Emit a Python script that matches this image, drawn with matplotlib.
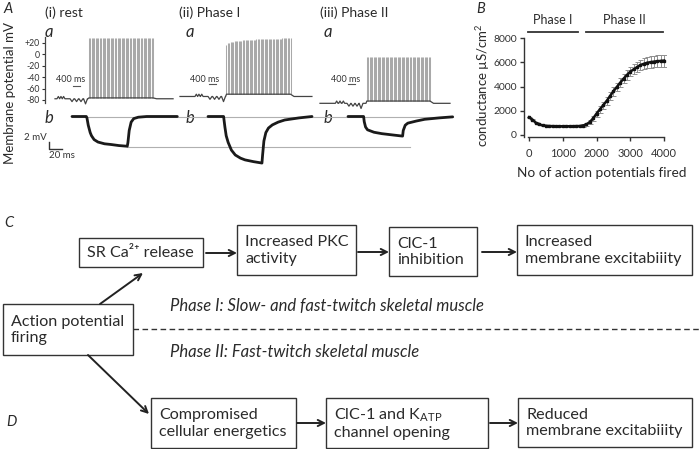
import numpy as np
import matplotlib
matplotlib.use('Agg')
import matplotlib.pyplot as plt
from matplotlib.patches import Rectangle

plt.rcParams['font.family'] = ['Lato', 'DejaVu Sans']
plt.rcParams['mathtext.fontset'] = 'custom'
plt.rcParams['mathtext.rm'] = 'Lato'
plt.rcParams['mathtext.it'] = 'Lato:italic'
plt.rcParams['mathtext.bf'] = 'Lato:bold'

# ---------------- Panel A data ----------------
a_titles = ['(i) rest', '(ii) Phase I', '(iii) Phase II']
a_baseline_mV = [-78, -74, -86]
a_train_base_mV = [-76.5, -70, -82]
a_up_pulse_s = [[0.19, 0.34, 0.49], [0.93, 1.08, 1.24], [0.95, 1.14, 1.33]]
a_down_pulse_s = [[0.97, 1.23, 1.48, 1.74], [1.71, 1.97, 2.22, 2.48], [1.65, 1.88, 2.11, 2.34]]
a_train_on_s = [1.88, 2.60, 2.62]
a_train_off_s = [5.59, 6.30, 6.27]
a_end_s = [6.73, 7.52, 7.41]
a_n_spikes = [48, 48, 48]
a_peak_i = 29
a_peaks_ii = [17, 19.5, 20.5, 21.2, 21.8, 22.3, 22.7, 23.0, 23.3, 23.6,
              23.9, 24.1, 24.3, 24.5, 24.7, 24.9, 25.1, 25.3, 25.4, 25.6,
              25.7, 25.9, 26.0, 26.1, 26.3, 26.4, 26.5, 26.6, 26.7, 26.8,
              26.9, 27.0, 27.1, 27.2, 27.3, 27.4, 27.4, 27.5, 27.6, 27.6,
              27.7, 27.8, 27.8, 27.9, 27.9, 28.0, 28.0, 28.0]
a_peak_iii = -4
a_yticks = [20, 0, -20, -40, -60, -80]
a_yticklabels = ['+20', '0', '-20', '-40', '-60', '-80']

# b traces: (time ms, deflection mV)
b_t_i = [0, 22, 23, 25, 28, 30, 34, 40, 50, 60, 72, 85, 86, 88, 91, 95, 102, 115, 162]
b_v_i = [0, 0, -0.4, -2.5, -4.6, -5.5, -6.6, -7.3, -7.8, -8.0, -8.3, -8.5, -7.5, -4.0, -1.6, -0.6, -0.2, 0, 0]
b_t_ii = [0, 24, 26, 28, 31, 36, 42, 50, 57, 70, 83, 84, 86, 89, 93, 99, 108, 118, 140, 160]
b_v_ii = [0, 0, -3, -5.5, -7.4, -9.6, -11, -11.9, -12.4, -12.9, -13.3, -11, -7, -4.6, -3.3, -2.4, -1.6, -1.0, -0.4, 0]
b_t_iii = [0, 24, 25, 27, 30, 40, 52, 70, 84, 85, 88, 92, 105, 118, 140, 161]
b_v_iii = [0, 0, -1.5, -3.0, -3.8, -4.5, -4.9, -5.3, -5.6, -4.0, -2.5, -1.9, -1.3, -0.8, -0.4, -0.1]
b_traces = [(b_t_i, b_v_i), (b_t_ii, b_v_ii), (b_t_iii, b_v_iii)]

# ---------------- Panel B data ----------------
ap_count = [0, 100, 200, 300, 400, 500, 600, 700, 800, 900, 1000, 1100, 1200, 1300,
            1400, 1500, 1600, 1700, 1800, 1900, 2000, 2100, 2200, 2300, 2400, 2500,
            2600, 2700, 2800, 2900, 3000, 3100, 3200, 3300, 3400, 3500, 3600, 3700,
            3800, 3900, 4000]
conductance = [1450, 1250, 1000, 850, 780, 740, 720, 710, 700, 700, 700, 700, 700, 700,
               710, 720, 760, 850, 1050, 1350, 1750, 2100, 2450, 2800, 3200, 3600,
               3950, 4300, 4650, 4950, 5230, 5420, 5600, 5780, 5880, 5970, 6020, 6060,
               6100, 6120, 6150]
cond_sem = [60, 50, 50, 50, 50, 50, 50, 50, 50, 50, 50, 50, 50, 50,
            60, 70, 90, 110, 150, 200, 250, 280, 300, 320, 340, 350,
            360, 380, 390, 400, 400, 420, 430, 440, 450, 460, 470, 480,
            490, 500, 500]
b_xticks = [0, 1000, 2000, 3000, 4000]
b_yticks = [0, 2000, 4000, 6000, 8000]
phase_labels = ['Phase I', 'Phase II']
phase_ranges = [(-30, 1450), (1690, 3970)]

# ---------------- Flowchart text ----------------
box_texts = ['SR Ca²⁺ release', 'Increased PKC\nactivity', 'ClC-1\ninhibition',
             'Increased\nmembrane excitabiiity', 'Action potential\nfiring',
             'Compromised\ncellular energetics', 'ClC-1 and K$_{\\mathrm{ATP}}$\nchannel opening',
             'Reduced\nmembrane excitabiiity']
phase_texts = ['Phase I: Slow- and fast-twitch skeletal muscle',
               'Phase II: Fast-twitch skeletal muscle']

# ================= layout =================
W, H = 700, 449
fig = plt.figure(figsize=(7.0, 4.49), dpi=100)
fig.patch.set_facecolor('white')

def px_axes(x0, y0, x1, y1, **kw):
    return fig.add_axes([x0 / W, 1 - y1 / H, (x1 - x0) / W, (y1 - y0) / H], **kw)

ink = '#2a2a2a'

# overlay axes in pixel coordinates
ov = px_axes(0, 0, W, H)
ov.set_xlim(0, W)
ov.set_ylim(H, 0)
ov.axis('off')
ov.patch.set_alpha(0)

# ---------- Panel A: a traces ----------
S_PER_PX = 0.057
MV_PER_PX = 1 / 0.57
a_start_px = [55, 180, 320]
zero_px = 54.3
ax_a = px_axes(45.3, 30, 465, 112)
ax_a.set_xlim(-9.7 * S_PER_PX, (465 - 55) * S_PER_PX)
ax_a.set_ylim((zero_px - 112) * MV_PER_PX, (zero_px - 30) * MV_PER_PX)
ax_a.patch.set_alpha(0)
for s in ['top', 'right', 'bottom']:
    ax_a.spines[s].set_visible(False)
ax_a.spines['left'].set_bounds(-86, 31)
ax_a.spines['left'].set_color('#444')
ax_a.spines['left'].set_linewidth(0.9)
ax_a.set_xticks([])
ax_a.set_yticks(a_yticks)
ax_a.set_yticklabels(a_yticklabels)
ax_a.tick_params(axis='y', length=2.5, width=0.8, pad=1.5, labelsize=6.3, colors='#333')

a_peaks = [np.full(a_n_spikes[0], a_peak_i), np.array(a_peaks_ii), np.full(a_n_spikes[2], a_peak_iii)]
for k in range(3):
    off = (a_start_px[k] - 55) * S_PER_PX
    base = a_baseline_mV[k]
    tb = a_train_base_mV[k]
    ts, vs = [0.0], [base]
    for c in a_up_pulse_s[k]:
        ts += [c - 0.075, c, c + 0.075]
        vs += [base, base + 4, base]
    for j, c in enumerate(a_down_pulse_s[k]):
        ts += [c - 0.11, c, c + 0.11]
        vs += [base, base - 5 - (4 if j == len(a_down_pulse_s[k]) - 1 else 0), base]
    on, offt, end = a_train_on_s[k], a_train_off_s[k], a_end_s[k]
    peaks = a_peaks[k]
    st = np.linspace(on + 0.05, offt, len(peaks))
    ax_a.vlines(st + off, tb, peaks, color='#a9a9a9', lw=0.75)
    ts += [on, on + 0.05, offt, offt + 0.2, end]
    vs += [base, tb, tb, base, base]
    ax_a.plot(np.array(ts) + off, vs, color='#444', lw=0.9, solid_joinstyle='round')

# 400 ms scale bars (in data units)
sb400_start = [1.03, 1.65, 1.60]
sb400_mV = [-55, -52, -52]
for k in range(3):
    off = (a_start_px[k] - 55) * S_PER_PX
    ax_a.plot([off + sb400_start[k], off + sb400_start[k] + 0.4], [sb400_mV[k]] * 2,
              color='#555', lw=0.8)

# ---------- Panel A: b traces ----------
MS_PER_PX = 1 / 0.65
MVb_PER_PX = 1 / 3.5
b_start_px = [72, 208, 348]
ax_b = px_axes(30, 105, 470, 172)
ax_b.set_xlim((30 - 72) * MS_PER_PX, (470 - 72) * MS_PER_PX)
ax_b.set_ylim((116.5 - 172) * MVb_PER_PX, (116.5 - 105) * MVb_PER_PX)
ax_b.axis('off')
ax_b.patch.set_alpha(0)
# reference lines
ax_b.plot([0, (453 - 72) * MS_PER_PX], [0, 0], color='#b0b0b0', lw=0.8)
ax_b.plot([85, (410 - 72) * MS_PER_PX], [-8.6, -8.6], color='#b0b0b0', lw=0.8)
for k in range(3):
    off = (b_start_px[k] - 72) * MS_PER_PX
    t, v = b_traces[k]
    ax_b.plot(np.array(t) + off, v, color='#1a1a1a', lw=2.0, solid_capstyle='round')
# 2 mV / 20 ms scale bar
ax_b.plot([-35, -35, -15], [-7.2, -9.3, -9.3], color='#333', lw=1.0)

# ---------- Panel A texts ----------
ov.text(3, 9, 'A', fontsize=10.5, style='italic', va='center', ha='left', color=ink)
title_x = [45, 179, 320]
for k in range(3):
    ov.text(title_x[k], 13, a_titles[k], fontsize=10, va='center', ha='left', color=ink)
letter_x = [49, 190, 328]
for k in range(3):
    ov.text(letter_x[k], 32, 'a', fontsize=12, style='italic', va='center', ha='center', color=ink)
    ov.text(letter_x[k], 118, 'b', fontsize=12, style='italic', va='center', ha='center', color=ink)
ms_x = [70.5, 205, 346]
for k in range(3):
    ov.text(ms_x[k], 80, '400 ms', fontsize=6.5, va='center', ha='center', color='#333')
ov.text(10, 93, 'Membrane potential mV', fontsize=9.5, rotation=90, va='center', ha='center', color=ink)
ov.text(35, 137, '2 mV', fontsize=7, va='center', ha='center', color='#333')
ov.text(62, 156, '20 ms', fontsize=7, va='center', ha='center', color='#333')

# ---------- Panel B ----------
ax_c = px_axes(524, 37, 666, 137.3)
X_PER_PX = 1000 / 33.75
Y_PER_PX = 2000 / 24.1
ax_c.set_xlim(-5 * X_PER_PX, 4000 + 2 * X_PER_PX)
ax_c.set_ylim(-2.6 * Y_PER_PX, (134.7 - 37) * Y_PER_PX)
ax_c.patch.set_alpha(0)
for s in ['top', 'right']:
    ax_c.spines[s].set_visible(False)
for s in ['left', 'bottom']:
    ax_c.spines[s].set_color('#333')
    ax_c.spines[s].set_linewidth(1.0)
ax_c.spines['left'].set_bounds(-150, 8000)
ax_c.spines['bottom'].set_bounds(-30, 4000)
ax_c.set_xticks(b_xticks)
ax_c.set_yticks(b_yticks)
ax_c.tick_params(axis='x', length=3, width=1, pad=5, labelsize=8, colors='#333')
ax_c.tick_params(axis='y', length=3, width=1, pad=2, labelsize=7.5, colors='#333')
ax_c.errorbar(ap_count, conductance, yerr=cond_sem, fmt='none', ecolor='#8f8f8f',
              elinewidth=0.7, capsize=1.8, capthick=0.7, zorder=2)
ax_c.plot(ap_count, conductance, color='#111', lw=1.8, marker='s', ms=1.6, zorder=3)
bar_y = (134.7 - 32) * Y_PER_PX
lab_y = (134.7 - 20) * Y_PER_PX
for (x0, x1), lab in zip(phase_ranges, phase_labels):
    ax_c.plot([x0, x1], [bar_y, bar_y], color='#333', lw=1.3, clip_on=False)
    ax_c.text((x0 + x1) / 2, lab_y, lab, fontsize=9, ha='center', va='center', color=ink, clip_on=False)
ov.text(476, 9, 'B', fontsize=10.5, style='italic', va='center', ha='left', color=ink)
ov.text(483, 85, 'conductance µS/cm$^2$', fontsize=9.5, rotation=90, va='center', ha='center', color=ink)
ov.text(602, 173, 'No of action potentials fired', fontsize=9.8, va='center', ha='center', color=ink)

# ---------- Flowchart (C / D) ----------
boxes = [(79, 238, 203, 267), (237, 225, 356, 275), (389, 227, 477, 276),
         (517, 225, 692, 275), (3, 304, 133, 355), (151, 398, 296, 448),
         (326, 398, 488, 448), (518, 398, 692, 447)]
fs_box = 11.6
for (x0, y0, x1, y1), txt in zip(boxes, box_texts):
    ov.add_patch(Rectangle((x0, y0), x1 - x0, y1 - y0, fill=False, ec='#333', lw=1.0))
    ov.text(x0 + 8, (y0 + y1) / 2 + 0.5, txt, fontsize=fs_box, ha='left', va='center',
            color=ink, linespacing=1.2)

arrows = [((206, 253), (237, 253)), ((358, 252), (389, 252)), ((482, 252), (517, 252)),
          ((100, 304), (143, 273)), ((88, 355), (149, 414)),
          ((297, 423), (326, 423)), ((490, 423), (518, 423))]
for (xa, ya), (xb, yb) in arrows:
    ov.annotate('', xy=(xb, yb), xytext=(xa, ya),
                arrowprops=dict(arrowstyle='->', lw=1.4, color='#222', shrinkA=0, shrinkB=0,
                                mutation_scale=11))

ov.plot([133, 700], [329, 329], color='#333', lw=1.0, dashes=(4, 2.5))
ov.text(170, 306, phase_texts[0], fontsize=12.0, style='italic', ha='left', va='center', color=ink)
ov.text(170, 352, phase_texts[1], fontsize=12.0, style='italic', ha='left', va='center', color=ink)
ov.text(4, 223, 'C', fontsize=10.5, style='italic', ha='left', va='center', color=ink)
ov.text(6, 422, 'D', fontsize=10.5, style='italic', ha='left', va='center', color=ink)

fig.savefig('out.png', dpi=100, facecolor='white')
